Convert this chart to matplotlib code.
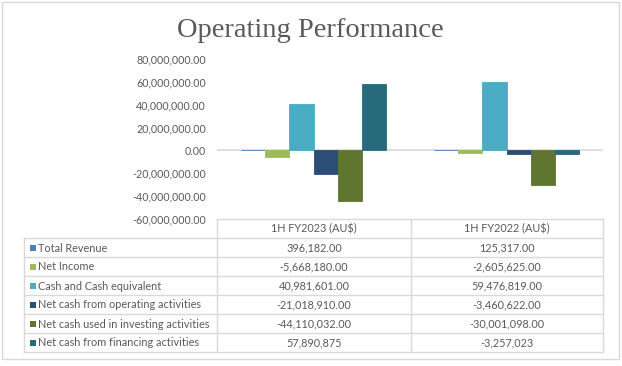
import matplotlib
matplotlib.use("Agg")
import numpy as np
from matplotlib import pyplot as plt
from matplotlib.patches import Rectangle

# data
periods = ["1H FY2023 (AU$)", "1H FY2022 (AU$)"]
series = [
    "Total Revenue",
    "Net Income",
    "Cash and Cash equivalent",
    "Net cash from operating activities",
    "Net cash used in investing activities",
    "Net cash from financing activities",
]
values = [
    [396182.00, 125317.00],
    [-5668180.00, -2605625.00],
    [40981601.00, 59476819.00],
    [-21018910.00, -3460622.00],
    [-44110032.00, -30001098.00],
    [57890875, -3257023],
]
decimals = [2, 2, 2, 2, 2, 0]
colors = ["#4F81BD", "#9BBB59", "#4BACC6", "#2C4D75", "#5F7530", "#276A7C"]
y_ticks = [-60e6, -40e6, -20e6, 0, 20e6, 40e6, 60e6, 80e6]

W, H = 622, 366
TXT = "#595959"
GRID = "#D9D9D9"
SANS = "Lato"

fig = plt.figure(figsize=(W / 100, H / 100), dpi=100)

# overlay in pixel coords for frame + data table
ov = fig.add_axes([0, 0, 1, 1], zorder=0)
ov.set_xlim(0, W)
ov.set_ylim(H, 0)
ov.axis("off")

# chart
ax = fig.add_axes([217 / W, 1 - 219 / H, 386 / W, 160 / H], zorder=1)
ax.patch.set_alpha(0)
x = np.arange(len(periods))
bw = 0.75 / len(series)
ax.axhline(0, color=GRID, lw=1.2, zorder=0)
for i, (name, vals) in enumerate(zip(series, values)):
    ax.bar(x + (i - (len(series) - 1) / 2) * bw, vals, width=bw, color=colors[i],
           ec=colors[i], lw=0.6, label=name, zorder=2)
ax.set_xlim(-0.5, len(periods) - 0.5)
ax.set_ylim(-60e6, 80e6)
ax.set_yticks(y_ticks)
ax.set_yticklabels(["{:,.2f}".format(v) for v in y_ticks], color=TXT, fontsize=7.7, family=SANS)
ax.tick_params(axis="y", length=0, pad=8)
ax.set_xticks([])
for s in ax.spines.values():
    s.set_visible(False)

fig.text(310 / W, 1 - 37 / H, "Operating Performance", ha="center", va="baseline",
         fontsize=20.5, color=TXT, family="Liberation Serif")

# outer frame
ov.add_patch(Rectangle((2, 2), 617, 357, fill=False, ec=GRID, lw=1))

# table grid
left, c1, c2, right = 24, 217, 411, 603
top, head_h, row_h = 219, 19, 19
body_top = top + head_h
bottom = body_top + row_h * len(series)
ov.plot([c1, right], [top, top], color=GRID, lw=1)
for r in range(len(series) + 1):
    yy = body_top + r * row_h
    ov.plot([left, right], [yy, yy], color=GRID, lw=1)
ov.plot([left, left], [body_top, bottom], color=GRID, lw=1)
for xx in (c1, c2, right):
    ov.plot([xx, xx], [top, bottom], color=GRID, lw=1)

centers = [(c1 + c2) / 2, (c2 + right) / 2]
for j, p in enumerate(periods):
    ov.text(centers[j], top + head_h / 2 + 0.5, p, ha="center", va="center",
            fontsize=7.8, color=TXT, family=SANS)
for i, name in enumerate(series):
    yc = body_top + row_h * i + row_h / 2
    ov.add_patch(Rectangle((30, yc - 3), 6, 6, color=colors[i], lw=0))
    ov.text(38, yc + 0.5, name, ha="left", va="center", fontsize=7.8, color=TXT, family=SANS)
    for j in range(len(periods)):
        ov.text(centers[j], yc + 0.5, "{:,.{d}f}".format(values[i][j], d=decimals[i]),
                ha="center", va="center", fontsize=7.8, color=TXT, family=SANS)

fig.savefig("out.png", dpi=100)
